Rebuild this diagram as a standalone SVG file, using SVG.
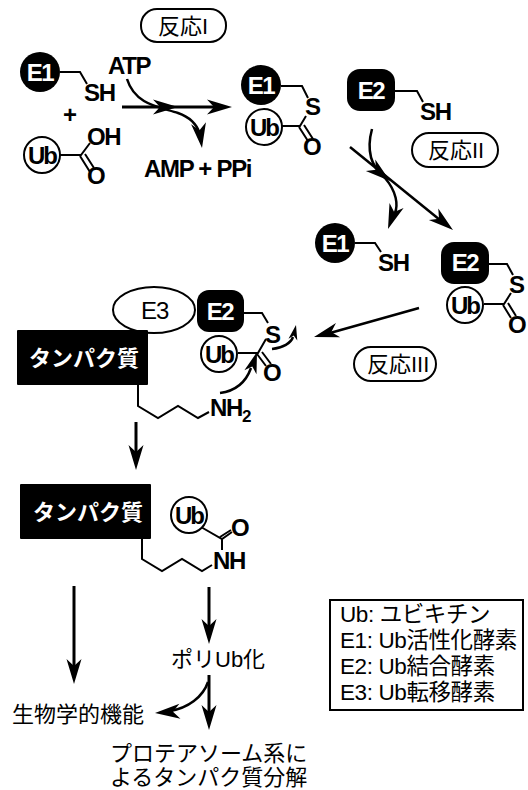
<svg xmlns="http://www.w3.org/2000/svg" width="528" height="790" viewBox="0 0 528 790">
<style>
text{font-family:"Liberation Sans","Noto Sans CJK JP",sans-serif;fill:#000}
.b{font-weight:bold;font-size:24px;letter-spacing:-1.3px}
.w{font-weight:bold;font-size:24px;fill:#fff;text-anchor:middle;letter-spacing:-1.5px}
.u{font-weight:bold;font-size:24px;text-anchor:middle;letter-spacing:-2px}
.t{font-size:22.5px;letter-spacing:-.4px}
.j{font-size:22px;fill:#fff;font-weight:bold}
.r{font-size:22px}
.bond{fill:none;stroke:#000;stroke-width:2}
.c{fill:#fff;stroke:#000;stroke-width:2}
.a{fill:none;stroke:#000;stroke-width:3}
.a2{fill:none;stroke:#000;stroke-width:2.5}
</style>
<defs><path id="h" d="M0 0L-25 -7.5L-18 0L-25 7.5Z" fill="#000"/></defs>
<rect width="528" height="790" fill="#fff"/>
<g id="connectors">
<path class="a" d="M122 107H215"/><use href="#h" transform="translate(232,107)"/><use href="#h" transform="translate(178,107)"/>
<path class="a2" d="M127 79C135 105 160 107 178 113C190 117 197 125 199 132"/><use href="#h" transform="translate(202,148) rotate(82)"/>
<path class="a2" d="M350 147L440 220"/><use href="#h" transform="translate(453,230) rotate(39)"/>
<path class="a2" d="M372 129C365 155 375 170 385 178C397 192 398 205 395 213"/><use href="#h" transform="translate(388,229) rotate(110)"/><use href="#h" transform="translate(390,181) rotate(39)"/>
<path class="a2" d="M419 308L330 333"/><use href="#h" transform="translate(314,337) rotate(164)"/>
<path class="a2" d="M220 393C235 391 246 382 251 368"/><use href="#h" transform="translate(257,352) rotate(-72) scale(.85)"/>
<path class="a2" d="M272 349C283 348 291 343 293 337"/><use href="#h" transform="translate(296,325) rotate(-78) scale(.6)"/>
<path class="a" d="M136 422V455"/><use href="#h" transform="translate(136,470) rotate(90)"/>
<path class="a" d="M74 586V668"/><use href="#h" transform="translate(74,684) rotate(90)"/>
<path class="a" d="M209 587V628"/><use href="#h" transform="translate(209,644) rotate(90)"/>
<path class="a" d="M209 675V715"/><use href="#h" transform="translate(209,730) rotate(90)"/>
<path class="a2" d="M208 682C203 697 188 708 170 711"/><use href="#h" transform="translate(155,713) rotate(176)"/>
</g>
<g id="label-r1"><rect class="c" x="141" y="9" width="85" height="33" rx="16"/><text class="r" x="158" y="34">反応I</text></g>
<g id="e1-sh"><circle cx="40" cy="72" r="20"/><text class="w" x="40" y="81">E1</text><path class="bond" d="M60 72H80L87 84"/><text class="b" x="84" y="101">SH</text></g>
<g id="plus"><text class="b" x="63" y="123">+</text></g>
<g id="ub-cooh"><circle class="c" cx="42" cy="155" r="18"/><text class="u" x="42" y="164">Ub</text><path class="bond" d="M60 155H81L90 143M80 156L90 172M85 154L94 168"/><text class="b" x="87" y="145">OH</text><text class="b" x="87" y="184">O</text></g>
<g id="atp"><text class="b" x="108" y="74">ATP</text></g>
<g id="amp"><text class="b" x="144" y="177">AMP + PPi</text></g>
<g id="e1-s-ub"><circle cx="261" cy="85" r="20"/><text class="w" x="261" y="94">E1</text><path class="bond" d="M281 86H302L308 98M306 116L300 126H282M299 127L308 141M304 125L313 139"/><circle class="c" cx="264" cy="127" r="18"/><text class="u" x="264" y="136">Ub</text><text class="b" x="305" y="115">S</text><text class="b" x="303" y="155">O</text></g>
<g id="e2-sh"><rect x="347" y="69" width="48" height="42" rx="13"/><text class="w" x="371" y="99">E2</text><path class="bond" d="M395 91H417L423 102"/><text class="b" x="420" y="120">SH</text></g>
<g id="label-r2"><rect class="c" x="412" y="133" width="86" height="34" rx="17"/><text class="r" x="428" y="158">反応II</text></g>
<g id="e1-sh-2"><circle cx="335" cy="243" r="20"/><text class="w" x="335" y="252">E1</text><path class="bond" d="M355 243H375L381 252"/><text class="b" x="378" y="271">SH</text></g>
<g id="e2-s-ub"><rect x="441" y="242" width="48" height="42" rx="13"/><text class="w" x="465" y="271">E2</text><path class="bond" d="M489 264H507L513 275M511 293L504 304H484M503 305L511 318M508 303L516 316"/><circle class="c" cx="465" cy="305" r="18"/><text class="u" x="465" y="314">Ub</text><text class="b" x="509" y="293">S</text><text class="b" x="508" y="333">O</text></g>
<g id="label-r3"><rect class="c" x="354" y="347" width="82" height="34" rx="17"/><text class="r" x="367" y="372">反応III</text></g>
<g id="protein-e3-e2">
<ellipse class="c" cx="154" cy="310" rx="41" ry="23"/><text x="141" y="319" style="font-size:24px;letter-spacing:-1px">E3</text>
<rect x="197" y="290" width="47" height="42" rx="12"/><text class="w" x="220" y="320">E2</text>
<rect x="17" y="330" width="131" height="55" rx="1"/><text class="j" x="29" y="366">タンパク質</text>
<path class="bond" d="M244 313H262L268 323M266 339L258 353H238M257 354L266 366M262 352L271 364M138 385V406L158 418L178 406L198 418L209 412"/>
<circle class="c" cx="219" cy="354" r="18"/><text class="u" x="219" y="363">Ub</text><text class="b" x="265" y="343">S</text><text class="b" x="263" y="381">O</text>
<text class="b" x="210" y="416">NH<tspan dy="6" style="font-size:17px">2</tspan></text>
</g>
<g id="protein-ub">
<rect x="20" y="484" width="131" height="55" rx="1"/><text class="j" x="33" y="520">タンパク質</text>
<path class="bond" d="M142 539V559L162 571L182 559L202 571L212 565M201 527L222 539L232 532M220 537L231 530M222 539V550"/>
<circle class="c" cx="189" cy="515" r="18"/><text class="u" x="189" y="524">Ub</text><text class="b" x="231" y="536">O</text><text class="b" x="213" y="569">NH</text>
</g>
<g id="poly"><text x="171" y="667" style="font-size:22px">ポリUb化</text></g>
<g id="bio"><text x="12" y="722" style="font-size:22px">生物学的機能</text></g>
<g id="proteasome"><text x="110" y="761" style="font-size:22px">プロテアソーム系に</text><text x="110" y="785" style="font-size:22px">よるタンパク質分解</text></g>
<g id="legend"><rect x="330" y="600" width="193" height="110" fill="#fff" stroke="#000" stroke-width="2"/>
<text class="t" x="340" y="622">Ub: ユビキチン</text><text class="t" x="340" y="648">E1: Ub活性化酵素</text><text class="t" x="340" y="674">E2: Ub結合酵素</text><text class="t" x="340" y="700">E3: Ub転移酵素</text></g>
</svg>
